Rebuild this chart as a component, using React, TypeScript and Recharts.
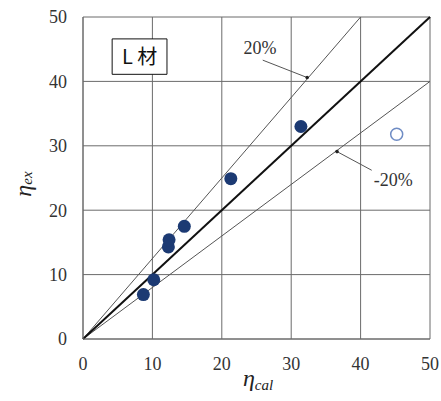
import {
  ScatterChart,
  Scatter,
  XAxis,
  YAxis,
  CartesianGrid,
  ReferenceLine,
  ReferenceArea,
  ReferenceDot,
} from "recharts";

// measured points (η_cal, η_ex)
const calValues = [8.7, 10.2, 12.3, 12.4, 14.6, 21.3, 31.4];
const exValues = [6.9, 9.2, 14.3, 15.4, 17.5, 24.9, 33.0];
// the one open circle
const openCal = [45.2];
const openEx = [31.8];

const axisTicks = [0, 10, 20, 30, 40, 50];

// reference lines: 1:1, +20%, -20%
const equalityLine = [
  { x: 0, y: 0 },
  { x: 50, y: 50 },
];
const plusLine = [
  { x: 0, y: 0 },
  { x: 40, y: 50 },
];
const minusLine = [
  { x: 0, y: 0 },
  { x: 50, y: 40 },
];

const filled = calValues.map((x, i) => ({ x, y: exValues[i] }));
const open = openCal.map((x, i) => ({ x, y: openEx[i] }));

const serif = "Liberation Serif";
const gridColor = "#6b6b6b";

const YTitle = () => (
  <text
    x={25}
    y={184}
    transform="rotate(-90 25 184)"
    textAnchor="middle"
    dominantBaseline="middle"
    fontFamily={serif}
    fontStyle="italic"
    fill="#222"
  >
    <tspan fontSize={24}>η</tspan>
    <tspan fontSize={15} dy={4}>ex</tspan>
  </text>
);

const XTitle = () => (
  <text
    x={258}
    y={386}
    textAnchor="middle"
    fontFamily={serif}
    fontStyle="italic"
    fill="#222"
  >
    <tspan fontSize={24}>η</tspan>
    <tspan fontSize={15} dy={4}>cal</tspan>
  </text>
);

const tickStyle = { fill: "#333", fontSize: 18, fontFamily: serif };

export default function App() {
  return (
    <div
      style={{
        position: "absolute",
        left: 0,
        top: 0,
        background: "#fff",
        fontFamily: serif,
      }}
    >
      <ScatterChart
        width={441}
        height={401}
        margin={{ top: 17, right: 11, left: 0, bottom: 17 }}
        style={{ fontFamily: serif }}
      >
        <CartesianGrid stroke={gridColor} strokeWidth={1} />
        <XAxis
          type="number"
          dataKey="x"
          domain={[0, 50]}
          ticks={axisTicks}
          height={45}
          tickLine={false}
          axisLine={{ stroke: gridColor }}
          tickMargin={12}
          tick={tickStyle}
        />
        <YAxis
          type="number"
          dataKey="y"
          domain={[0, 50]}
          ticks={axisTicks}
          width={83}
          tickLine={false}
          axisLine={{ stroke: gridColor }}
          tickMargin={10}
          tick={tickStyle}
        />
        <ReferenceLine segment={plusLine} stroke="#555" strokeWidth={1} />
        <ReferenceLine segment={minusLine} stroke="#555" strokeWidth={1} />
        <ReferenceLine segment={equalityLine} stroke="#111" strokeWidth={2} />
        {/* annotation arrows */}
        <ReferenceLine
          segment={[
            { x: 25.9, y: 43.3 },
            { x: 32.3, y: 40.6 },
          ]}
          stroke="#555"
          strokeWidth={1}
        />
        <ReferenceDot x={32.3} y={40.6} r={1.8} fill="#222" stroke="none" />
        <ReferenceLine
          segment={[
            { x: 41.6, y: 26.2 },
            { x: 36.6, y: 29.1 },
          ]}
          stroke="#555"
          strokeWidth={1}
        />
        <ReferenceDot x={36.6} y={29.1} r={1.8} fill="#222" stroke="none" />
        <ReferenceDot
          x={25.5}
          y={45.2}
          r={0}
          fill="none"
          stroke="none"
          label={{ value: "20%", position: "center", fill: "#333", fontSize: 18, fontFamily: serif }}
        />
        <ReferenceDot
          x={44.7}
          y={24.7}
          r={0}
          fill="none"
          stroke="none"
          label={{ value: "-20%", position: "center", fill: "#333", fontSize: 18, fontFamily: serif }}
        />
        <ReferenceArea
          x1={4.2}
          x2={12.1}
          y1={41.1}
          y2={46.6}
          fill="#fff"
          fillOpacity={1}
          stroke="#111"
          strokeWidth={1}
          label={{
            value: "L 材",
            position: "center",
            fill: "#111",
            fontSize: 20,
            fontFamily: "Noto Sans CJK JP",
          }}
        />
        <Scatter
          data={filled}
          isAnimationActive={false}
          legendType="none"
          shape={(p: any) => <circle cx={p.cx} cy={p.cy} r={6.5} fill="#1c3a73" />}
        />
        <Scatter
          data={open}
          isAnimationActive={false}
          legendType="none"
          shape={(p: any) => (
            <circle cx={p.cx} cy={p.cy} r={6} fill="#fff" stroke="#6f8cc4" strokeWidth={1.5} />
          )}
        />
        <YTitle />
        <XTitle />
      </ScatterChart>
    </div>
  );
}
